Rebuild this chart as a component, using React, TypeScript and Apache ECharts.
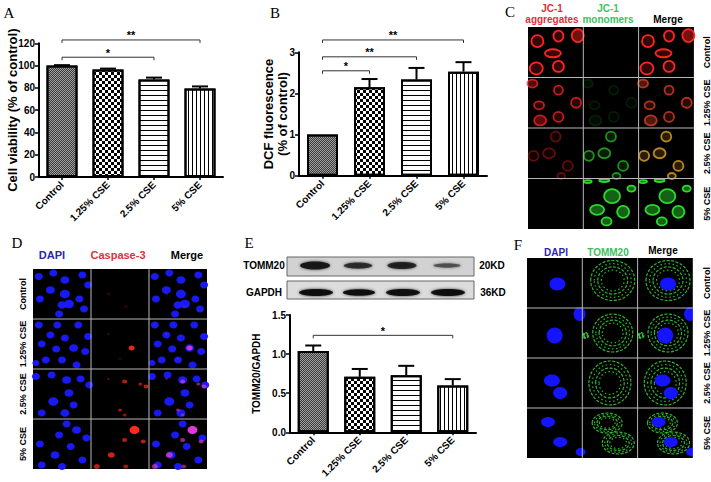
import React, { useEffect, useRef } from "react";
import * as echarts from "echarts";

const FONT = "'Liberation Sans', Arial, sans-serif";
const SERIF = "'Liberation Serif', 'Times New Roman', serif";

// ---------- data ----------
const categories = ["Control", "1.25% CSE", "2.5% CSE", "5% CSE"];

// Panel A: cell viability (% of control)
const viabilityMean = [100, 96.5, 87.5, 79.5];
const viabilitySem = [0.4, 0.8, 1.7, 1.8];
const viabilitySig = [
  { from: 0, to: 2, y: 107.5, label: "*" },
  { from: 0, to: 3, y: 123, label: "**" },
];

// Panel B: DCF fluorescence (% of control)
const dcfMean = [1.0, 2.15, 2.34, 2.53];
const dcfSem = [0, 0.2, 0.28, 0.23];
const dcfSig = [
  { from: 0, to: 1, y: 2.55, label: "*" },
  { from: 0, to: 2, y: 2.89, label: "**" },
  { from: 0, to: 3, y: 3.3, label: "**" },
];

// Panel E: TOMM20/GAPDH
const tommMean = [1.04, 0.71, 0.73, 0.6];
const tommSem = [0.07, 0.1, 0.12, 0.08];
const tommSig = [{ from: 0, to: 3, y: 1.24, label: "*" }];

// Western blot band intensities (relative)
const blotTomm20 = [1.0, 0.65, 0.8, 0.3];
const blotGapdh = [1.0, 0.95, 1.0, 1.0];

const rowLabels = ["Control", "1.25% CSE", "2.5% CSE", "5% CSE"];

// ---------- bar styles ----------
const barFill = ["#a0a0a0", "#ffffff", "#ffffff", "#ffffff"];
const barDecals: any[] = [
  { symbol: "rect", symbolSize: 1, color: "#3a3a3a", dashArrayX: [[1, 1], [0, 1, 1, 0]], dashArrayY: [1, 0] },
  { symbol: "rect", symbolSize: 1, color: "#000000", dashArrayX: [[3, 3], [0, 3, 3, 0]], dashArrayY: [3, 0] },
  { symbol: "rect", symbolSize: 1, color: "#000000", dashArrayX: [1, 0], dashArrayY: [1, 3.5] },
  { symbol: "rect", symbolSize: 1, color: "#000000", dashArrayX: [1, 3], dashArrayY: [1, 0] },
];

function xAxis(gridIndex: number) {
  return {
    type: "category",
    gridIndex,
    data: categories,
    axisLine: { show: true, lineStyle: { color: "#000", width: 2 } },
    axisTick: { show: true, alignWithLabel: true, length: 3, lineStyle: { color: "#000", width: 1.5 } },
    axisLabel: { rotate: 45, interval: 0, color: "#000", fontFamily: FONT, fontWeight: "bold", fontSize: 10, margin: 6 },
    splitLine: { show: false },
  };
}

function yAxis(gridIndex: number, max: number, interval: number, name: string, nameGap: number, nameSize: number, fmt?: any) {
  return {
    type: "value",
    gridIndex,
    min: 0,
    max,
    interval,
    name,
    nameLocation: "middle",
    nameGap,
    nameMoveOverlap: false,
    nameTextStyle: { color: "#000", fontFamily: FONT, fontWeight: "bold", fontSize: nameSize, lineHeight: nameSize + 1 },
    axisLine: { show: true, lineStyle: { color: "#000", width: 2 } },
    axisTick: { show: true, length: 4, lineStyle: { color: "#000", width: 1.5 } },
    axisLabel: { color: "#000", fontFamily: FONT, fontWeight: "bold", fontSize: 10, margin: 4, formatter: fmt },
    splitLine: { show: false },
  };
}

function barSeries(idx: number, values: number[]) {
  return {
    type: "bar",
    xAxisIndex: idx,
    yAxisIndex: idx,
    barWidth: 31,
    z: 2,
    data: values.map((v, i) => ({
      value: v,
      itemStyle: { color: barFill[i], borderColor: "#000", borderWidth: 2, decal: barDecals[i] },
    })),
  };
}

function errSeries(idx: number, values: number[], sems: number[]) {
  return {
    type: "custom",
    xAxisIndex: idx,
    yAxisIndex: idx,
    z: 3,
    data: values.map((v, i) => [i, v, sems[i]]),
    encode: { x: 0, y: 1 },
    renderItem: (params: any, api: any) => {
      const i = api.value(0);
      const v = api.value(1);
      const s = api.value(2);
      if (!s) return null;
      const b = api.coord([i, v]);
      const t = api.coord([i, v + s]);
      return {
        type: "group",
        children: [
          { type: "line", shape: { x1: b[0], y1: b[1], x2: t[0], y2: t[1] }, style: { stroke: "#000", lineWidth: 2 } },
          { type: "line", shape: { x1: t[0] - 8, y1: t[1], x2: t[0] + 8, y2: t[1] }, style: { stroke: "#000", lineWidth: 2 } },
        ],
      };
    },
  };
}

function sigSeries(idx: number, sig: { from: number; to: number; y: number; label: string }[]) {
  return {
    type: "custom",
    xAxisIndex: idx,
    yAxisIndex: idx,
    z: 3,
    clip: false,
    data: sig.map((s) => [s.from, s.y, s.to]),
    encode: { x: 0, y: 1 },
    renderItem: (params: any, api: any) => {
      const a = api.coord([api.value(0), api.value(1)]);
      const b = api.coord([api.value(2), api.value(1)]);
      const label = sig[params.dataIndex].label;
      return {
        type: "group",
        children: [
          {
            type: "polyline",
            shape: { points: [[a[0], a[1] + 3], [a[0], a[1]], [b[0], b[1]], [b[0], b[1] + 3]] },
            style: { stroke: "#333", lineWidth: 1, fill: null },
          },
          {
            type: "text",
            x: (a[0] + b[0]) / 2,
            y: a[1] + 1,
            style: { text: label, fill: "#000", font: `bold 11px ${FONT}`, align: "center", verticalAlign: "bottom" },
          },
        ],
      };
    },
  };
}

// ---------- picture helpers (micrographs / blot) ----------
function text(x: number, y: number, t: string, opt: any = {}) {
  return {
    type: "text",
    x,
    y,
    rotation: opt.rotation || 0,
    z: 10,
    style: {
      text: t,
      fill: opt.color || "#000",
      font: opt.font || `bold 10px ${FONT}`,
      align: opt.align || "center",
      verticalAlign: opt.valign || "middle",
      textAlign: opt.align || "center",
      textVerticalAlign: opt.valign || "middle",
    },
  };
}

function ell(cx: number, cy: number, rx: number, ry: number, style: any) {
  return { type: "ellipse", shape: { cx, cy, rx, ry }, style };
}

function gridFrame(x0: number, y0: number, w: number, h: number, rows: number, cols: number) {
  return [{ type: "rect", shape: { x: x0, y: y0, width: w * cols, height: h * rows }, style: { fill: "#000" } }];
}
function gridLines(x0: number, y0: number, w: number, h: number, rows: number, cols: number) {
  const out: any[] = [];
  for (let c = 1; c < cols; c++)
    out.push({ type: "line", shape: { x1: x0 + c * w, y1: y0, x2: x0 + c * w, y2: y0 + rows * h }, style: { stroke: "#b8b8b8", lineWidth: 1 }, z: 5 });
  for (let r = 1; r < rows; r++)
    out.push({ type: "line", shape: { x1: x0, y1: y0 + r * h, x2: x0 + cols * w, y2: y0 + r * h }, style: { stroke: "#b8b8b8", lineWidth: 1 }, z: 5 });
  return out;
}

// Panel C (JC-1)
const jcRows = [
  { cells: [[0.17, 0.28, 6, 6, 0], [0.55, 0.18, 5, 5.5, 0], [0.9, 0.17, 6, 6.5, 1], [0.45, 0.52, 8, 4, 0], [0.15, 0.82, 6.5, 6, 0], [0.55, 0.78, 5.5, 5.5, 0]], red: 1, green: 0 },
  { cells: [[0.08, 0.12, 5, 4, 1], [0.55, 0.25, 4.5, 4.5, 0], [0.87, 0.5, 5, 5, 0], [0.2, 0.55, 5, 4, 0], [0.55, 0.78, 5, 5, 0], [0.22, 0.85, 6, 5, 1]], red: 0.75, green: 0.12 },
  { cells: [[0.5, 0.17, 5, 5, 0], [0.38, 0.5, 6, 5, 0], [0.72, 0.75, 5, 5, 0], [0.1, 0.55, 5, 5, 0], [0.6, 0.95, 4, 3, 0]], red: 0.35, green: 0.65 },
  { cells: [[0.25, 0.62, 7, 5, 1], [0.52, 0.35, 8, 7, 1], [0.72, 0.66, 6, 6, 1], [0.42, 0.85, 5, 4, 1], [0.87, 0.2, 4, 3, 1], [0.08, 0.06, 4, 1.5, 1], [0.38, 0.04, 5, 1.5, 1]], red: 0, green: 1 },
];

function jcCells(x: number, y: number, w: number, h: number, cells: any[], color: string, alpha: number) {
  if (alpha <= 0) return [];
  return cells.map((c) =>
    ell(x + c[0] * w, y + c[1] * h, c[2], c[3], {
      fill: color,
      fillOpacity: c[4] ? 0.45 * alpha : 0.2 * alpha,
      stroke: color,
      strokeOpacity: alpha,
      lineWidth: 1.8,
    })
  );
}

// Panel D (DAPI / Caspase-3)
const dRows = [
  { nuclei: [[0.1, 0.15, 4], [0.35, 0.08, 4], [0.55, 0.22, 4.5], [0.85, 0.12, 4], [0.95, 0.32, 4], [0.12, 0.6, 4], [0.3, 0.42, 4.5], [0.55, 0.5, 5], [0.62, 0.7, 5], [0.5, 0.72, 4.5], [0.8, 0.6, 4], [0.88, 0.8, 4], [0.45, 0.9, 4]], spots: [[0.3, 0.5, 2, 0.15], [0.6, 0.75, 2, 0.15]] },
  { nuclei: [[0.1, 0.12, 4], [0.42, 0.12, 4], [0.78, 0.12, 4], [0.95, 0.35, 4], [0.3, 0.32, 4], [0.55, 0.38, 4], [0.15, 0.5, 4], [0.4, 0.6, 4], [0.7, 0.58, 4.5], [0.9, 0.65, 4], [0.22, 0.82, 4], [0.5, 0.82, 4], [0.75, 0.92, 4], [0.05, 0.88, 3.5]], spots: [[0.7, 0.58, 3, 0.9], [0.3, 0.3, 1.5, 0.2], [0.5, 0.8, 1.5, 0.2]] },
  { nuclei: [[0.05, 0.15, 4], [0.32, 0.12, 4], [0.58, 0.22, 4.5], [0.82, 0.2, 4], [0.97, 0.32, 4], [0.62, 0.48, 4.5], [0.35, 0.65, 5], [0.7, 0.72, 4], [0.55, 0.88, 4.5], [0.15, 0.88, 4]], spots: [[0.58, 0.25, 2.5, 0.7], [0.85, 0.3, 2, 0.6], [0.95, 0.35, 2.5, 0.7], [0.5, 0.82, 2, 0.6], [0.58, 0.92, 2, 0.5], [0.3, 0.2, 1.5, 0.3]] },
  { nuclei: [[0.58, 0.1, 4], [0.75, 0.22, 4.5], [0.45, 0.32, 4], [0.92, 0.38, 4], [0.12, 0.5, 4], [0.38, 0.72, 4.5], [0.65, 0.55, 4], [0.85, 0.82, 4], [0.15, 0.92, 4], [0.5, 0.95, 4]], spots: [[0.75, 0.22, 5, 1], [0.58, 0.42, 2.5, 0.7], [0.9, 0.45, 2.5, 0.7], [0.35, 0.72, 3.5, 0.8], [0.1, 0.95, 3, 0.7], [0.6, 0.95, 2.5, 0.6]] },
];

// Panel F (DAPI / TOMM20)
const fRows = [
  { nuclei: [[0.55, 0.52, 8, 6.5]], mito: [[0.55, 0.45, 22, 20]] },
  { nuclei: [[0.5, 0.55, 8, 8], [0.95, 0.12, 6, 7]], mito: [[0.55, 0.5, 20, 19], [0.06, 0.55, 3, 3]] },
  { nuclei: [[0.45, 0.45, 8, 6], [0.6, 0.7, 7, 6]], mito: [[0.5, 0.5, 21, 22]] },
  { nuclei: [[0.38, 0.28, 7, 5], [0.6, 0.68, 7, 5], [0.97, 0.88, 5, 4]], mito: [[0.45, 0.3, 15, 10], [0.65, 0.7, 16, 11]] },
];

function mitoEls(x: number, y: number, w: number, h: number, mito: any[]) {
  const out: any[] = [];
  mito.forEach((m) => {
    [1, 0.84, 0.68, 0.52].forEach((k, j) => {
      out.push(
        ell(x + m[0] * w, y + m[1] * h, m[2] * k, m[3] * k, {
          fill: null,
          stroke: "#36d236",
          lineWidth: 1.2,
          lineDash: j % 2 ? [1.5, 2.5] : [3, 1.5],
          opacity: 0.85,
        })
      );
    });
  });
  return out;
}

function buildGraphic() {
  const g: any[] = [];
  const letterFont = `15px ${SERIF}`;
  g.push(text(9, 13, "A", { font: letterFont }));
  g.push(text(275, 13, "B", { font: letterFont }));
  g.push(text(510, 12, "C", { font: letterFont }));
  g.push(text(17, 243, "D", { font: letterFont }));
  g.push(text(249, 243, "E", { font: letterFont }));
  g.push(text(518, 245, "F", { font: letterFont }));
  const rowFont = `bold 9px ${FONT}`;

  // ---- Panel C ----
  const cx0 = 528, cy0 = 27, cw = 55.3, ch = 50.5;
  g.push(...gridFrame(cx0, cy0, cw, ch, 4, 3));
  jcRows.forEach((row, r) => {
    const y = cy0 + r * ch;
    g.push(...jcCells(cx0, y, cw, ch, row.cells, "#ff2424", row.red));
    g.push(...jcCells(cx0 + cw, y, cw, ch, row.cells, "#2fd82f", row.green));
    g.push(...jcCells(cx0 + 2 * cw, y, cw, ch, row.cells, "#ff2424", row.red));
    g.push(...jcCells(cx0 + 2 * cw, y, cw, ch, row.cells, row.red > 0.3 && row.green > 0.3 ? "#d8c828" : "#2fd82f", row.green));
    g.push(text(707, y + ch / 2, rowLabels[r], { rotation: Math.PI / 2, font: rowFont }));
  });
  g.push(...gridLines(cx0, cy0, cw, ch, 4, 3));
  g.push(text(552, 8, "JC-1", { color: "#e0303a" }));
  g.push(text(552, 19, "aggregates", { color: "#e0303a" }));
  g.push(text(608, 8, "JC-1", { color: "#3cc060" }));
  g.push(text(608, 19, "monomers", { color: "#3cc060" }));
  g.push(text(668, 19, "Merge"));

  // ---- Panel D ----
  const dx0 = 33, dy0 = 269, dw = 58, dh = 50;
  g.push(...gridFrame(dx0, dy0, dw, dh, 4, 3));
  dRows.forEach((row, r) => {
    const y = dy0 + r * dh;
    row.nuclei.forEach((n) => {
      g.push(ell(dx0 + n[0] * dw, y + n[1] * dh, n[2], n[2] * 0.85, { fill: "#1a1aff", opacity: 0.95 }));
      g.push(ell(dx0 + 2 * dw + n[0] * dw, y + n[1] * dh, n[2], n[2] * 0.85, { fill: "#1a1aff", opacity: 0.95 }));
    });
    row.spots.forEach((s) => {
      g.push(ell(dx0 + dw + s[0] * dw, y + s[1] * dh, s[2], s[2] * 0.8, { fill: "#ff2a1a", opacity: s[3] }));
      g.push(ell(dx0 + 2 * dw + s[0] * dw, y + s[1] * dh, s[2], s[2] * 0.8, { fill: "#ff40d0", opacity: s[3] * 0.85 }));
    });
    g.push(text(23, y + dh / 2, rowLabels[r], { rotation: Math.PI / 2, font: rowFont }));
  });
  g.push(...gridLines(dx0, dy0, dw, dh, 4, 3));
  g.push(text(52, 255, "DAPI", { color: "#2828b0", font: `bold 11px ${FONT}` }));
  g.push(text(118, 255, "Caspase-3", { color: "#e03040", font: `bold 11px ${FONT}` }));
  g.push(text(187, 255, "Merge", { font: `bold 11px ${FONT}` }));

  // ---- Panel F ----
  const fx0 = 527, fy0 = 258, fw = 55.3, fh = 50;
  g.push(...gridFrame(fx0, fy0, fw, fh, 4, 3));
  fRows.forEach((row, r) => {
    const y = fy0 + r * fh;
    g.push(...mitoEls(fx0 + fw, y, fw, fh, row.mito));
    g.push(...mitoEls(fx0 + 2 * fw, y, fw, fh, row.mito));
    row.nuclei.forEach((n) => {
      g.push(ell(fx0 + n[0] * fw, y + n[1] * fh, n[2], n[3], { fill: "#1414ff" }));
      g.push(ell(fx0 + 2 * fw + n[0] * fw, y + n[1] * fh, n[2], n[3], { fill: "#1414ff" }));
    });
    g.push(text(707, y + fh / 2, rowLabels[r], { rotation: Math.PI / 2, font: rowFont }));
  });
  g.push({ type: "rect", shape: { x: fx0 + 3 * fw, y: fy0 - 2, width: 10, height: 4 * fh + 4 }, style: { fill: "#fff" }, z: 4 });
  g.push(...gridLines(fx0, fy0, fw, fh, 4, 3));
  g.push(text(556, 252, "DAPI", { color: "#2828b0" }));
  g.push(text(608, 252, "TOMM20", { color: "#3cc060" }));
  g.push(text(663, 250, "Merge"));

  // ---- Western blot (panel E) ----
  g.push({ type: "rect", shape: { x: 287, y: 257, width: 187, height: 19 }, style: { fill: "#d2d2d2", stroke: "#666", lineWidth: 1 } });
  g.push({ type: "rect", shape: { x: 287, y: 281, width: 187, height: 18 }, style: { fill: "#dcdcdc", stroke: "#666", lineWidth: 1 } });
  const bandX = [315, 358, 402, 447];
  blotTomm20.forEach((v, i) => {
    g.push(ell(bandX[i], 265.5, 13 + 2 * v, 1.5 + 2.5 * v, { fill: "#111", opacity: 0.35 + 0.6 * v, shadowBlur: 3, shadowColor: "#333" }));
  });
  blotGapdh.forEach((v, i) => {
    g.push(ell(bandX[i] + 1, 292.5, 17 * v, 3.5 * v, { fill: "#0c0c0c", opacity: 0.95, shadowBlur: 3, shadowColor: "#333" }));
  });
  g.push(text(264, 265, "TOMM20"));
  g.push(text(264, 292, "GAPDH"));
  g.push(text(492, 265, "20KD"));
  g.push(text(493, 292, "36KD"));
  return g;
}

function buildOption() {
  return {
    animation: false,
    backgroundColor: "#fff",
    grid: [
      { left: 39, top: 43.3, width: 184, height: 133.7 },
      { left: 299, top: 52.3, width: 188, height: 123.4 },
      { left: 290, top: 315, width: 186, height: 117.3 },
    ],
    xAxis: [xAxis(0), xAxis(1), xAxis(2)],
    yAxis: [
      yAxis(0, 120, 20, "Cell viability (% of control)", 20, 13),
      yAxis(1, 3, 1, "DCF fluorescence\n(% of control)", 10, 13),
      yAxis(2, 1.5, 0.5, "TOMM20/GAPDH", 28, 10, (v: number) => v.toFixed(1)),
    ],
    series: [
      barSeries(0, viabilityMean),
      errSeries(0, viabilityMean, viabilitySem),
      sigSeries(0, viabilitySig),
      barSeries(1, dcfMean),
      errSeries(1, dcfMean, dcfSem),
      sigSeries(1, dcfSig),
      barSeries(2, tommMean),
      errSeries(2, tommMean, tommSem),
      sigSeries(2, tommSig),
    ],
    graphic: buildGraphic(),
  };
}

export default function App() {
  const ref = useRef<HTMLDivElement>(null);
  useEffect(() => {
    document.body.style.margin = "0";
    const chart = echarts.init(ref.current as HTMLDivElement, null, { renderer: "svg" });
    chart.setOption(buildOption() as any);
    return () => chart.dispose();
  }, []);
  return <div ref={ref} style={{ width: 711, height: 482, background: "#fff" }} />;
}
